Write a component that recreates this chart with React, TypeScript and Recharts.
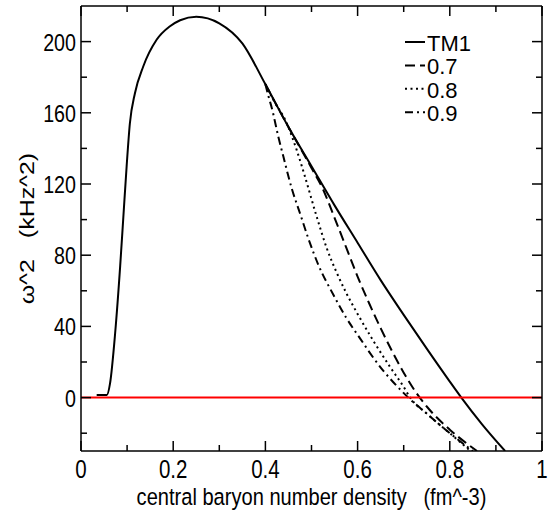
import React from "react";
import { LineChart, Line, XAxis, YAxis, ReferenceLine, Legend } from "recharts";

// central baryon number density (fm^-3) vs omega^2 (kHz^2)
const tm1Density = [0.034, 0.056, 0.063, 0.074, 0.085, 0.092, 0.099, 0.106, 0.117, 0.135, 0.164, 0.193, 0.215, 0.25, 0.3, 0.35, 0.4, 0.45, 0.5, 0.55, 0.6, 0.65, 0.7, 0.75, 0.8, 0.825, 0.87, 0.92];
const tm1Omega2 = [1.5, 1.5, 8, 36, 74, 102, 130, 154, 171, 186, 201, 208.6, 212, 214, 210.3, 199, 176, 152, 130, 108, 87, 66, 46.5, 27.5, 9, 0, -15, -30];

const d07Density = [0.4, 0.45, 0.5, 0.525, 0.55, 0.575, 0.6, 0.625, 0.65, 0.675, 0.7, 0.725, 0.75, 0.8, 0.859];
const d07Omega2 = [176, 152, 129, 117, 101, 84.5, 68, 53, 39, 26, 14, 3.5, -5, -18, -30];

const d08Density = [0.4, 0.42, 0.443, 0.468, 0.486, 0.512, 0.533, 0.555, 0.575, 0.6, 0.634, 0.671, 0.7, 0.714, 0.75, 0.8, 0.845];
const d08Omega2 = [176, 166, 156, 139, 124, 101, 84, 70, 59, 47, 32, 17, 6, 0, -9, -20, -30];

const d09Density = [0.4, 0.407, 0.414, 0.428, 0.439, 0.457, 0.475, 0.493, 0.515, 0.548, 0.575, 0.606, 0.627, 0.656, 0.678, 0.71, 0.75, 0.8, 0.85];
const d09Omega2 = [176, 169, 162.6, 146.6, 135.4, 117.6, 103.6, 89.5, 74.5, 57.5, 45, 33, 25, 15, 8.5, 0, -9, -20, -30];

const xTicks = [0, 0.1, 0.2, 0.3, 0.4, 0.5, 0.6, 0.7, 0.8, 0.9, 1];
const yTicks = [-20, 0, 20, 40, 60, 80, 100, 120, 140, 160, 180, 200];

const zip = (xs: number[], ys: number[]) => xs.map((x, i) => ({ x, y: ys[i] }));

const series = [
  { name: "TM1", data: zip(tm1Density, tm1Omega2), dash: undefined as string | undefined },
  { name: "0.7", data: zip(d07Density, d07Omega2), dash: "10 5" },
  { name: "0.8", data: zip(d08Density, d08Omega2), dash: "2 3.5" },
  { name: "0.9", data: zip(d09Density, d09Omega2), dash: "8 4 2 4" },
];

const sans = '"Liberation Sans", Arial, sans-serif';
const ink = "#000";
// the reference text is horizontally squeezed
const squeeze = 0.82;

const isMajorX = (v: number) => Math.round(v * 10) % 2 === 0;
const fmtX = (v: number) => (v === 0 ? "0" : v === 1 ? "1" : v.toFixed(1));

const BottomTick = (props: any) => {
  const { x, y, payload } = props;
  const major = isMajorX(payload.value);
  return (
    <g>
      <line x1={x} x2={x} y1={y} y2={y - (major ? 10 : 6)} stroke={ink} strokeWidth={1.5} />
      {major && (
        <text
          transform={`translate(${x}, ${y + 27}) scale(${squeeze}, 1)`}
          textAnchor="middle"
          fontFamily={sans}
          fontSize={25}
          fill={ink}
        >
          {fmtX(payload.value)}
        </text>
      )}
    </g>
  );
};

const TopTick = (props: any) => {
  const { x, y, payload } = props;
  const major = isMajorX(payload.value);
  return <line x1={x} x2={x} y1={y} y2={y + (major ? 10 : 6)} stroke={ink} strokeWidth={1.5} />;
};

const LeftTick = (props: any) => {
  const { x, y, payload } = props;
  const major = payload.value % 40 === 0;
  return (
    <g>
      <line x1={x} x2={x + (major ? 10 : 6)} y1={y} y2={y} stroke={ink} strokeWidth={1.5} />
      {major && (
        <text
          transform={`translate(${x - 5}, ${y + 9}) scale(${squeeze}, 1)`}
          textAnchor="end"
          fontFamily={sans}
          fontSize={24}
          fill={ink}
        >
          {payload.value}
        </text>
      )}
    </g>
  );
};

const RightTick = (props: any) => {
  const { x, y, payload } = props;
  const major = payload.value % 40 === 0;
  return <line x1={x} x2={x - (major ? 10 : 6)} y1={y} y2={y} stroke={ink} strokeWidth={1.5} />;
};

const XLabel = (props: any) => {
  const vb = props.viewBox;
  return (
    <text
      transform={`translate(${vb.x + vb.width / 2}, ${vb.y + 54}) scale(${squeeze}, 1)`}
      textAnchor="middle"
      fontFamily={sans}
      fontSize={24.5}
      fill={ink}
    >
      {"central baryon number density\u00a0\u00a0\u00a0(fm^-3)"}
    </text>
  );
};

const YLabel = (props: any) => {
  const vb = props.viewBox;
  const cy = vb.y + vb.height / 2;
  return (
    <text
      transform={`translate(33.5, ${cy}) scale(${squeeze}, 1) rotate(-90)`}
      textAnchor="middle"
      fontFamily={sans}
      fontSize={25}
      fill={ink}
    >
      {"\u03c9^2\u00a0\u00a0\u00a0(kHz^2)"}
    </text>
  );
};

const renderLegend = () => (
  <svg width={130} height={100}>
    {series.map((s, i) => {
      const base = 21 + i * 23.4;
      return (
        <g key={s.name}>
          <line x1={5} x2={25} y1={base - 9} y2={base - 9} stroke={ink} strokeWidth={2} strokeDasharray={s.dash} />
          <text x={27} y={base} fontFamily={sans} fontSize={22} fill={ink}>
            {s.name}
          </text>
        </g>
      );
    })}
  </svg>
);

export default function App() {
  return (
    <div style={{ position: "absolute", left: 0, top: 0, background: "#fff" }}>
      <LineChart width={549} height={512} margin={{ top: 0, right: 0, bottom: 0, left: 0 }}>
        <XAxis
          xAxisId="b"
          orientation="bottom"
          type="number"
          dataKey="x"
          domain={[0, 1]}
          ticks={xTicks}
          interval={0}
          height={61}
          tickSize={0}
          tickMargin={0}
          tick={BottomTick}
          tickLine={false}
          axisLine={{ stroke: ink, strokeWidth: 1.5 }}
          allowDataOverflow
          label={XLabel}
        />
        <XAxis
          xAxisId="t"
          orientation="top"
          type="number"
          dataKey="x"
          domain={[0, 1]}
          ticks={xTicks}
          interval={0}
          height={6}
          tickSize={0}
          tickMargin={0}
          tick={TopTick}
          tickLine={false}
          axisLine={{ stroke: ink, strokeWidth: 1.5 }}
          allowDataOverflow
        />
        <YAxis
          yAxisId="l"
          orientation="left"
          type="number"
          domain={[-30, 220]}
          ticks={yTicks}
          interval={0}
          width={81}
          tickSize={0}
          tickMargin={0}
          tick={LeftTick}
          tickLine={false}
          axisLine={{ stroke: ink, strokeWidth: 1.5 }}
          allowDataOverflow
          label={YLabel}
        />
        <YAxis
          yAxisId="r"
          orientation="right"
          type="number"
          domain={[-30, 220]}
          ticks={yTicks}
          interval={0}
          width={7}
          tickSize={0}
          tickMargin={0}
          tick={RightTick}
          tickLine={false}
          axisLine={{ stroke: ink, strokeWidth: 1.5 }}
          allowDataOverflow
        />
        {series.map((s) => (
          <Line
            key={s.name}
            xAxisId="b"
            yAxisId="l"
            data={s.data}
            dataKey="y"
            name={s.name}
            type="monotone"
            stroke={ink}
            strokeWidth={2}
            strokeDasharray={s.dash}
            dot={false}
            activeDot={false}
            isAnimationActive={false}
          />
        ))}
        <ReferenceLine xAxisId="b" yAxisId="l" y={0} stroke="#ff0000" strokeWidth={2} />
        <Legend
          layout="vertical"
          align="center"
          verticalAlign="middle"
          content={renderLegend}
          wrapperStyle={{ left: 400, top: 30, width: 130, height: 100 }}
        />
      </LineChart>
    </div>
  );
}
